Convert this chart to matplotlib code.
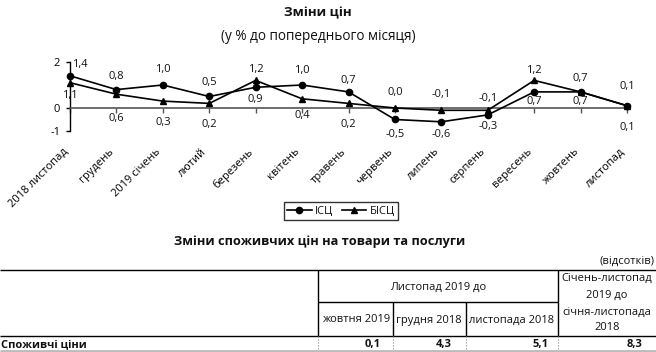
import matplotlib
matplotlib.use('Agg')
from matplotlib import pyplot as plt

plt.rcParams['font.family'] = ['Open Sans', 'DejaVu Sans']
plt.rcParams['text.color'] = '#111111'

months = ['2018 листопад', 'грудень', '2019 січень', 'лютий', 'березень', 'квітень',
          'травень', 'червень', 'липень', 'серпень', 'вересень', 'жовтень', 'листопад']
isc = [1.4, 0.8, 1.0, 0.5, 0.9, 1.0, 0.7, -0.5, -0.6, -0.3, 0.7, 0.7, 0.1]
bisc = [1.1, 0.6, 0.3, 0.2, 1.2, 0.4, 0.2, 0.0, -0.1, -0.1, 1.2, 0.7, 0.1]

# where the value labels sit relative to the points (pixels, + is up)
isc_off = [(10, 11), (0, 13), (0, 15), (0, 14), (0, -12), (0, 14), (0, 11),
           (0, -15), (0, -13), (0, -12), (0, -10), (0, 13), (0, 19)]
bisc_off = [(0, -13), (0, -24), (0, -21), (0, -21), (0, 11), (0, -17), (0, -21),
            (0, 15), (0, 16), (0, 12), (0, 10), (0, -10), (0, -22)]

col_group = 'Листопад 2019 до'
col_names = ['жовтня 2019', 'грудня 2018', 'листопада 2018']
col_last = ['Січень-листопад', '2019 до', 'січня-листопада', '2018']
row_name = 'Споживчі ціни'
row_vals = [0.1, 4.3, 5.1, 8.3]

W, H = 656, 352
fig = plt.figure(figsize=(W / 100, H / 100), dpi=100)

ax = fig.add_axes([70 / W, 1 - 131 / H, 557 / W, 69 / H])
ax.spines['top'].set_visible(False)
ax.spines['right'].set_visible(False)
ax.spines['bottom'].set_position(('data', 0))
ax.spines['bottom'].set_color('#555555')
ax.spines['bottom'].set_linewidth(1.2)
ax.spines['left'].set_linewidth(1.0)

x = list(range(len(months)))
l1, = ax.plot(x, isc, color='black', lw=1.2, marker='o', ms=4.5, clip_on=False, label='ІСЦ', zorder=3)
l2, = ax.plot(x, bisc, color='black', lw=1.2, marker='^', ms=4.5, clip_on=False, label='БІСЦ', zorder=3)

def fmt(v):
    return f'{v:.1f}'.replace('.', ',')

for i, v in enumerate(isc):
    ax.annotate(fmt(v), (i, v), xytext=isc_off[i], textcoords='offset pixels',
                ha='center', va='center', fontsize=8)
for i, v in enumerate(bisc):
    ax.annotate(fmt(v), (i, v), xytext=bisc_off[i], textcoords='offset pixels',
                ha='center', va='center', fontsize=8)

ax.set_xlim(0, 12)
ax.set_ylim(-1, 2)
ax.set_yticks([-1, 0, 2])
ax.set_yticklabels(['-1', '0', '2'])
ax.tick_params(axis='y', length=3, width=1, pad=4, labelsize=8)
ax.tick_params(axis='x', length=3.5, width=1, pad=24, labelsize=8, color='#555555')
ax.set_xticks(x)
ax.set_xticklabels(months, rotation=45, ha='right', fontsize=8)
ax.patch.set_alpha(0)

leg = fig.legend(handles=[l1, l2], loc='center', bbox_to_anchor=(341 / W, 1 - 211 / H),
                 ncol=2, frameon=True, fancybox=False, edgecolor='black', fontsize=8,
                 handlelength=2.2, columnspacing=0.8, handletextpad=0.3, borderpad=0.3)
leg.get_frame().set_linewidth(1.0)

fig.text(318 / W, 1 - 13 / H, 'Зміни цін', ha='center', va='center', fontsize=9.5, fontweight='bold')
fig.text(318 / W, 1 - 37 / H, '(у % до попереднього місяця)', ha='center', va='center', fontsize=9.8)

# table, drawn in pixel coordinates
tb = fig.add_axes([0, 0, 1, 1])
tb.set_xlim(0, W)
tb.set_ylim(H, 0)
tb.axis('off')

tb.text(320, 242, 'Зміни споживчих цін на товари та послуги', ha='center', va='center',
        fontsize=9.2, fontweight='bold')
tb.text(655, 261, '(відсотків)', ha='right', va='center', fontsize=8)

tb.hlines([270, 336], 0, W, color='black', lw=1)
tb.hlines(302, 318, 558, color='black', lw=1)
tb.vlines([318, 558], 270, 336, color='black', lw=1)
tb.vlines([393, 466], 302, 336, color='black', lw=1)
tb.vlines([318, 393, 466, 558], 336, 352, color='#888888', lw=0.8, linestyles=':')
tb.hlines(350.5, 0, W, color='#bbbbbb', lw=2)

tb.text(438, 287, col_group, ha='center', va='center', fontsize=8)
for cx, name in zip([356, 429, 512], col_names):
    tb.text(cx, 320, name, ha='center', va='center', fontsize=8)
for cy, line in zip([278, 295, 312, 328], col_last):
    tb.text(607, cy, line, ha='center', va='center', fontsize=8)

tb.text(1, 345, row_name, ha='left', va='center', fontsize=8, fontweight='bold')
for rx, v in zip([381, 452, 549, 642], row_vals):
    tb.text(rx, 345, fmt(v), ha='right', va='center', fontsize=8, fontweight='bold')

fig.savefig('out.png', dpi=100, facecolor='white')
